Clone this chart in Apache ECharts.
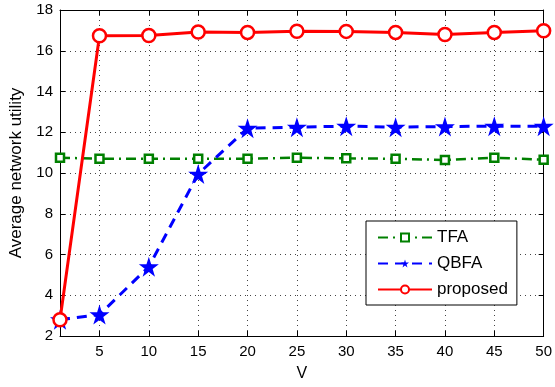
<!DOCTYPE html>
<html><head><meta charset="utf-8">
<script src="https://cdn.jsdelivr.net/npm/echarts@6/dist/echarts.min.js"></script>
<style>html,body{margin:0;padding:0;background:#fff}#c{width:555px;height:387px}</style>
</head><body><div id="c"></div>
<script>
const vValues = [1, 5, 10, 15, 20, 25, 30, 35, 40, 45, 50];
const xTicks = [5, 10, 15, 20, 25, 30, 35, 40, 45, 50];
const tfa = [10.75, 10.7, 10.7, 10.7, 10.7, 10.75, 10.72, 10.7, 10.64, 10.75, 10.65];
const qbfa = [2.8, 3.05, 5.4, 9.95, 12.2, 12.25, 12.3, 12.25, 12.28, 12.3, 12.3];
const proposed = [2.8, 16.74, 16.75, 16.92, 16.9, 16.96, 16.95, 16.9, 16.8, 16.9, 16.98];

const pair = arr => vValues.map((v, i) => [v, arr[i]]);
const font = 'Liberation Sans, Arial, sans-serif';
const star = 'path://M50,0 L61.2,34.5 L97.6,34.5 L68.2,55.9 L79.4,90.5 L50,69.1 L20.6,90.5 L31.8,55.9 L2.4,34.5 L38.8,34.5 Z';
const gridLine = {show: true, lineStyle: {color: '#444', type: [1, 4], width: 1}};

const chart = echarts.init(document.getElementById('c'));
chart.setOption({
  animation: false,
  backgroundColor: '#fff',
  textStyle: {fontFamily: font},
  grid: {left: 60, top: 10, right: 11, bottom: 50, show: false},
  xAxis: [{
    type: 'value', min: 1, max: 50,
    name: 'V', nameLocation: 'middle', nameGap: 30,
    nameTextStyle: {fontSize: 16, color: '#000', fontFamily: font},
    axisLine: {lineStyle: {color: '#000', width: 1}},
    axisTick: {inside: true, length: 5, customValues: xTicks, lineStyle: {color: '#000'}},
    axisLabel: {customValues: xTicks, fontSize: 15, color: '#000', margin: 8, fontFamily: font},
    splitLine: gridLine
  }, {
    type: 'value', min: 1, max: 50, position: 'top',
    axisLine: {lineStyle: {color: '#000', width: 1}},
    axisTick: {inside: true, length: 5, customValues: xTicks, lineStyle: {color: '#000'}},
    axisLabel: {show: false}, splitLine: {show: false}
  }],
  yAxis: [{
    type: 'value', min: 2, max: 18, interval: 2,
    name: 'Average network utility', nameLocation: 'middle', nameGap: 35,
    nameTextStyle: {fontSize: 17, color: '#000', fontFamily: font},
    axisLine: {show: true, lineStyle: {color: '#000', width: 1}},
    axisTick: {show: true, inside: true, length: 5, lineStyle: {color: '#000'}},
    axisLabel: {fontSize: 15, color: '#000', margin: 7, fontFamily: font},
    splitLine: gridLine
  }, {
    type: 'value', min: 2, max: 18, interval: 2, position: 'right',
    axisLine: {show: true, lineStyle: {color: '#000', width: 1}},
    axisTick: {show: true, inside: true, length: 5, lineStyle: {color: '#000'}},
    axisLabel: {show: false}, splitLine: {show: false}
  }],
  legend: {
    orient: 'vertical', left: 366, top: 221,
    itemWidth: 54, itemHeight: 10, itemGap: 9,
    padding: [8, 9, 7, 11],
    borderColor: '#000', borderWidth: 1, backgroundColor: '#fff', borderRadius: 0,
    textStyle: {fontSize: 17, color: '#000', fontFamily: font},
    data: ['TFA', 'QBFA', 'proposed']
  },
  series: [{
    name: 'TFA', type: 'line', data: pair(tfa),
    symbol: 'rect', symbolSize: 8, showAllSymbol: true,
    lineStyle: {color: '#008000', width: 2.5, type: [10, 5, 2, 5]},
    itemStyle: {color: '#fff', borderColor: '#008000', borderWidth: 2.5}, z: 3
  }, {
    name: 'QBFA', type: 'line', data: pair(qbfa),
    symbol: star, symbolSize: 20, showAllSymbol: true,
    lineStyle: {color: '#0000ff', width: 3, type: [10, 7]},
    itemStyle: {color: '#0000ff', borderColor: '#0000ff', borderWidth: 0}, z: 4
  }, {
    name: 'proposed', type: 'line', data: pair(proposed),
    symbol: 'circle', symbolSize: 13, showAllSymbol: true,
    lineStyle: {color: '#ff0000', width: 3},
    itemStyle: {color: '#fff', borderColor: '#ff0000', borderWidth: 2.5}, z: 5
  }]
});
</script></body></html>
